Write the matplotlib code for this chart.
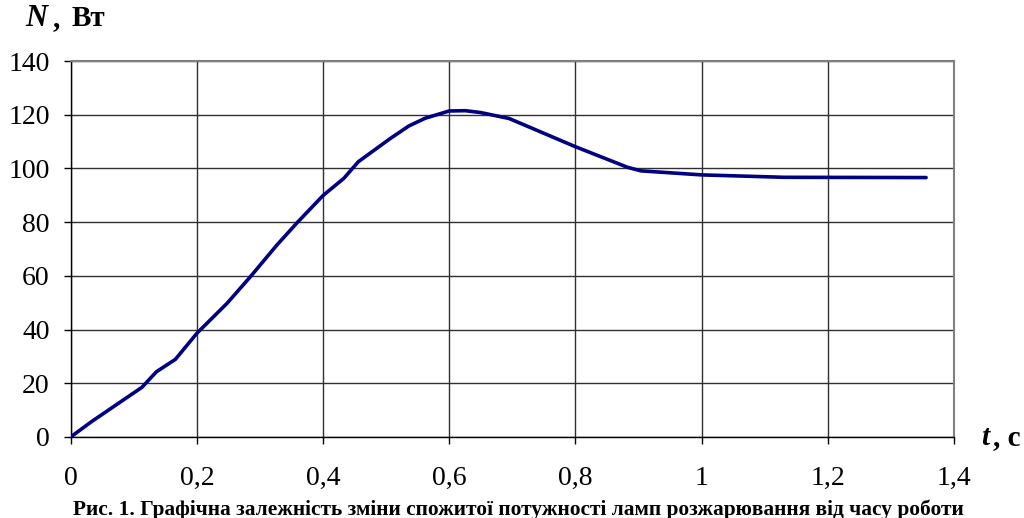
import matplotlib
matplotlib.use("Agg")
import matplotlib.pyplot as plt

t_values = [0.0, 0.033, 0.068, 0.113, 0.136, 0.166, 0.2, 0.248, 0.285, 0.327, 0.359,
            0.4, 0.433, 0.456, 0.507, 0.536, 0.562, 0.6, 0.626, 0.65, 0.695,
            0.8, 0.883, 0.904, 1.0, 1.131, 1.356]
n_values = [0.0, 5.7, 11.3, 18.5, 24.3, 28.9, 38.6, 49.8, 59.7, 71.5, 79.8,
            89.9, 96.3, 102.5, 111.2, 115.8, 118.7, 121.4, 121.5, 120.8, 118.6,
            108.1, 100.4, 99.1, 97.6, 96.7, 96.6]
x_ticks = [0, 0.2, 0.4, 0.6, 0.8, 1.0, 1.2, 1.4]
x_tick_labels = ["0", "0,2", "0,4", "0,6", "0,8", "1", "1,2", "1,4"]
y_ticks = [0, 20, 40, 60, 80, 100, 120, 140]
y_tick_labels = ["0", "20", "40", "60", "80", "100", "120", "140"]
caption = "Рис. 1. Графічна залежність зміни спожитої потужності ламп розжарювання від часу роботи"

plt.rcParams['font.family'] = ['Liberation Serif', 'DejaVu Serif']

fig = plt.figure(figsize=(10.24, 5.18), dpi=100)
ax = fig.add_axes([0.069, 0.1564, 0.8625, 0.7258])

ax.plot(t_values, n_values, color="#000080", linewidth=2.6, solid_capstyle="round",
        solid_joinstyle="round", zorder=3)

ax.set_xlim(0, 1.4)
ax.set_ylim(0, 140)
ax.set_xticks(x_ticks)
ax.set_xticklabels(x_tick_labels)
ax.set_yticks(y_ticks)
ax.set_yticklabels(y_tick_labels)
ax.tick_params(axis="both", direction="out", length=5, width=1, labelsize=20, colors="black")
ax.tick_params(axis="x", pad=16)
ax.tick_params(axis="y", pad=10)
ax.grid(True, color="#303030", linewidth=1.0)
ax.set_axisbelow(True)
for side in ["top", "right"]:
    ax.spines[side].set_color("#808080")
    ax.spines[side].set_linewidth(1.5)
for side in ["left", "bottom"]:
    ax.spines[side].set_color("black")
    ax.spines[side].set_linewidth(1.0)

# y-axis title "N, Вт"
fig.text(25 / 1024, 1 - 26 / 518, "N", fontsize=22, fontweight="bold", style="italic",
         ha="left", va="baseline")
fig.text(53 / 1024, 1 - 26 / 518, ",", fontsize=21, fontweight="bold",
         ha="left", va="baseline")
fig.text(72 / 1024, 1 - 26 / 518, "Вт", fontsize=21, fontweight="bold",
         ha="left", va="baseline")

# x-axis title "t, с"
fig.text(981 / 1024, 1 - 445 / 518, "t", fontsize=21, fontweight="bold", style="italic",
         ha="left", va="baseline")
fig.text(993 / 1024, 1 - 445 / 518, ", с", fontsize=21, fontweight="bold",
         ha="left", va="baseline")

fig.text(518 / 1024, 1 - 515 / 518, caption, fontsize=15.4, fontweight="bold",
         ha="center", va="baseline")

fig.savefig("out.png", dpi=100)
